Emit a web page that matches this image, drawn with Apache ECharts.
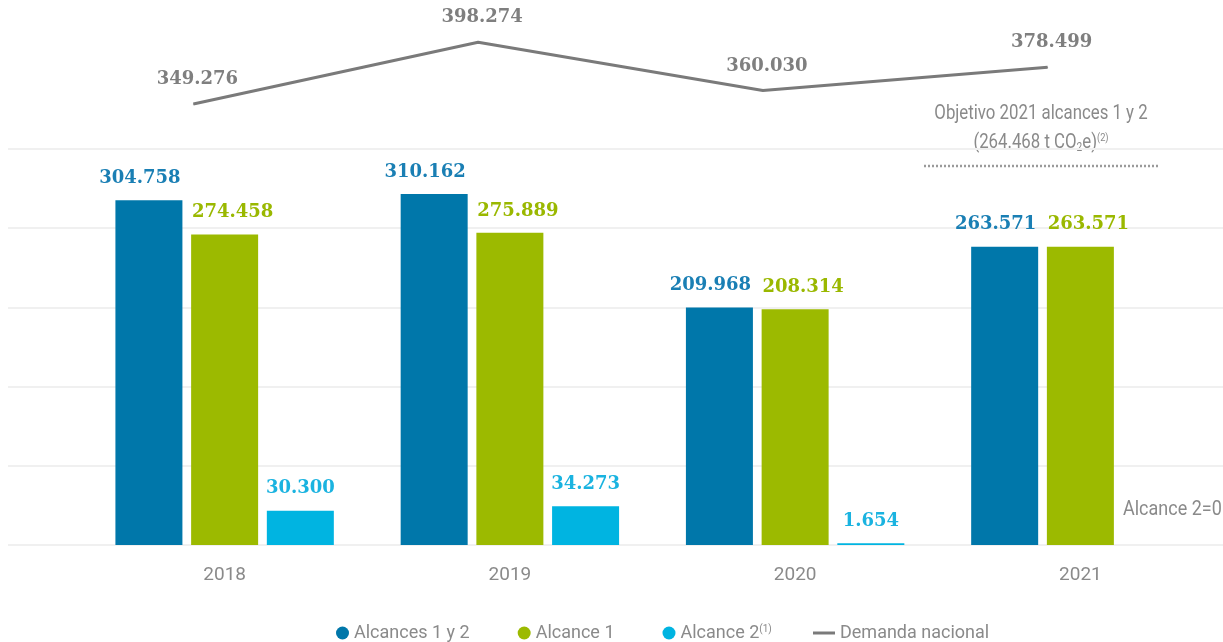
<!DOCTYPE html>
<html>
<head>
<meta charset="utf-8">
<script src="https://cdn.jsdelivr.net/npm/echarts@6/dist/echarts.min.js"></script>
<style>html,body{margin:0;padding:0;background:#fff}#c{width:1223px;height:642px}</style>
</head>
<body>
<div id="c"></div>
<script>
const categories = ['2018', '2019', '2020', '2021'];
const alcances12 = [304758, 310162, 209968, 263571];
const alcance1 = [274458, 275889, 208314, 263571];
const alcance2 = [30300, 34273, 1654, null];
const demanda = [349276, 398274, 360030, 378499];
const seriesNames = ['Alcances 1 y 2', 'Alcance 1', 'Alcance 2', 'Demanda nacional'];

const SANS = 'Roboto,"Liberation Sans",sans-serif';
const SERIF = '"DejaVu Serif","Liberation Serif",serif';
const fmt = v => String(v).replace(/\B(?=(\d{3})+(?!\d))/g, '.');

const C_BLUE = '#0077aa', C_GREEN = '#9cba00', C_CYAN = '#00b4e1', C_LINE = '#7a7a7a', C_TXT = '#8a8a8a';

function barLabel(color, dx) {
  return { show: true, position: 'top', distance: 13, offset: [dx, 0], color: color, fontFamily: SERIF, fontWeight: 'bold', fontSize: 18,
    formatter: p => (p.value == null ? '' : fmt(p.value)) };
}

const chart = echarts.init(document.getElementById('c'), null, { renderer: 'canvas' });
chart.setOption({
  animation: false,
  backgroundColor: '#fff',
  grid: [
    { left: 82, width: 1143, top: 149, bottom: 97 },
    { left: 51, width: 1139, top: 40, bottom: 97 },
    { left: 8, right: 0, top: 149, bottom: 97 }
  ],
  xAxis: [
    { type: 'category', gridIndex: 0, data: categories, axisLine: { show: false }, axisTick: { show: false },
      axisLabel: { color: C_TXT, fontFamily: SANS, fontSize: 19, margin: 21 } },
    { type: 'category', gridIndex: 1, data: categories, show: false },
    { type: 'value', gridIndex: 2, show: false, min: 0, max: 1 }
  ],
  yAxis: [
    { type: 'value', gridIndex: 0, min: 0, max: 350000, interval: 70000, show: false },
    { type: 'value', gridIndex: 1, min: 0, max: 400000, show: false },
    { type: 'value', gridIndex: 2, min: 0, max: 350000, interval: 70000,
      axisLine: { show: false }, axisTick: { show: false }, axisLabel: { show: false },
      splitLine: { show: true, lineStyle: { color: '#f0f0f0', width: 2 } } }
  ],
  legend: [
    { data: seriesNames.slice(0, 3), left: 331, top: 619, icon: 'circle', itemWidth: 13, itemHeight: 13, itemGap: 48,
      textStyle: { color: C_TXT, fontFamily: SANS, fontSize: 18, rich: { sup: { fontSize: 10, verticalAlign: 'top', color: C_TXT, fontFamily: SANS, padding: [0, 0, 8, 0] } } },
      formatter: n => n === 'Alcance 2' ? 'Alcance 2{sup|(1)}' : n },
    { data: [{ name: seriesNames[3], icon: 'path://M0,0H22V3H0Z' }], left: 808, top: 619, itemWidth: 22, itemHeight: 13,
      textStyle: { color: C_TXT, fontFamily: SANS, fontSize: 18 } }
  ],
  series: [
    { name: seriesNames[0], type: 'bar', xAxisIndex: 0, yAxisIndex: 0, data: alcances12, barWidth: 67, barGap: '13%',
      itemStyle: { color: C_BLUE }, label: barLabel('#1a7fb4', -9) },
    { name: seriesNames[1], type: 'bar', xAxisIndex: 0, yAxisIndex: 0, data: alcance1, barWidth: 67, barGap: '13%',
      itemStyle: { color: C_GREEN }, label: barLabel('#9ab800', 8) },
    { name: seriesNames[2], type: 'bar', xAxisIndex: 0, yAxisIndex: 0, data: alcance2, barWidth: 67, barGap: '13%',
      itemStyle: { color: C_CYAN }, label: barLabel('#1ab3e0', 0) },
    { name: seriesNames[3], type: 'line', xAxisIndex: 1, yAxisIndex: 1, data: demanda, symbol: 'circle', symbolSize: 1, showSymbol: true, clip: false,
      lineStyle: { color: C_LINE, width: 3 }, itemStyle: { color: C_LINE },
      label: { show: true, position: 'top', distance: 15, offset: [4, 0], color: '#7f7f7f', fontFamily: SERIF, fontWeight: 'bold', fontSize: 18,
        formatter: p => fmt(p.value) } }
  ],
  graphic: [
    { type: 'text', x: 1041, y: 114, scaleX: 0.84, style: { text: 'Objetivo 2021 alcances 1 y 2', fill: C_TXT, font: '20px ' + SANS, align: 'center', verticalAlign: 'middle' } },
    { type: 'text', x: 1041, y: 143, scaleX: 0.84, style: { text: '(264.468 t CO{sub|2}e){sup|(2)}', fill: C_TXT, font: '20px ' + SANS, align: 'center', verticalAlign: 'middle',
      rich: { sub: { fontSize: 12, fontFamily: SANS, fill: C_TXT, padding: [10, 0, 0, 0] }, sup: { fontSize: 11, fontFamily: SANS, fill: C_TXT, padding: [0, 0, 10, 0] } } } },
    { type: 'line', shape: { x1: 924, y1: 166, x2: 1160, y2: 166 }, style: { stroke: '#9a9a9a', lineWidth: 2.5, lineDash: [2, 2] } },
    { type: 'text', x: 1123, y: 510, scaleX: 0.9, style: { text: 'Alcance 2=0', fill: C_TXT, font: '20px ' + SANS, align: 'left', verticalAlign: 'middle' } }
  ]
});
</script>
</body>
</html>
